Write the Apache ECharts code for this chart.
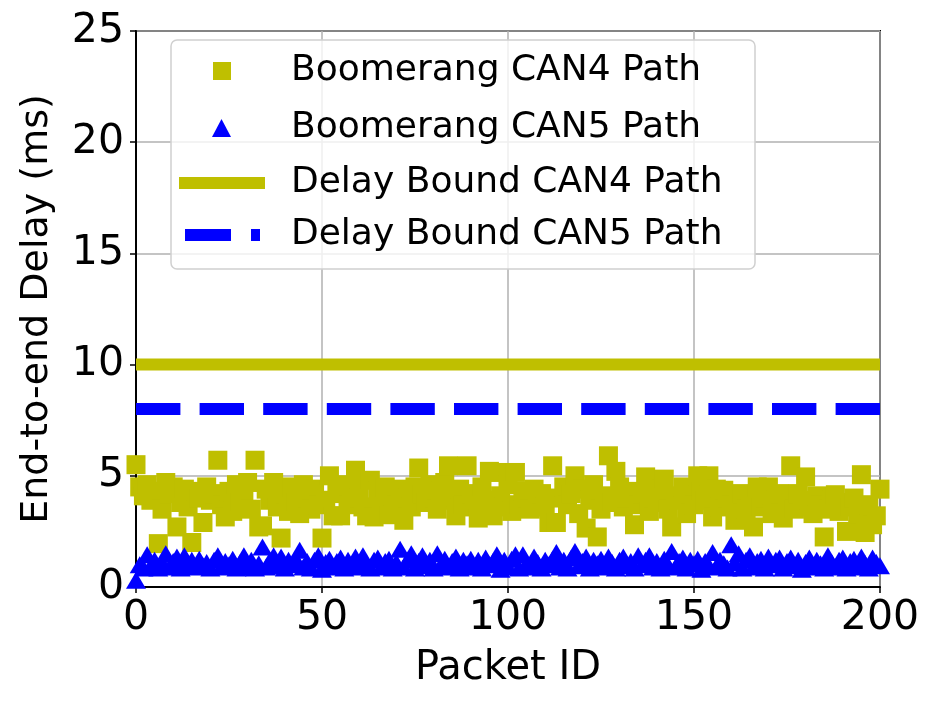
<!DOCTYPE html>
<html>
<head>
<meta charset="utf-8">
<script src="https://cdn.jsdelivr.net/npm/echarts@6/dist/echarts.min.js"></script>
<style>
  html, body { margin: 0; padding: 0; background: #fff; }
  #chart { width: 940px; height: 710px; }
</style>
</head>
<body>
<div id="chart"></div>
<script>
  // values, one per packet id 0..200
  var can4Delay = [
    5.5, 4.5, 4.1, 4.6, 3.9, 4.3, 1.95, 3.5, 4.7, 4.2,
    4.5, 2.7, 3.8, 4.4, 3.6, 2.0, 4.3, 4.0, 2.9, 4.5,
    3.9, 4.2, 5.7, 3.7, 3.15, 4.3, 3.4, 4.6, 3.8, 4.1,
    4.7, 3.5, 5.7, 2.7, 2.75, 4.4, 3.9, 4.7, 3.6, 2.2,
    4.2, 3.4, 4.5, 3.8, 3.3, 4.6, 4.0, 3.5, 4.4, 3.7,
    2.2, 3.9, 5.0, 3.2, 4.6, 3.2, 4.2, 3.7, 4.5, 5.25,
    4.0, 3.6, 3.2, 4.8, 3.15, 4.3, 3.8, 4.5, 3.25, 4.1,
    3.7, 4.4, 3.0, 4.0, 3.6, 4.5, 5.35, 4.2, 3.8, 4.6,
    4.0, 3.5, 4.3, 4.7, 5.45, 3.9, 3.2, 4.4, 3.7, 5.45,
    4.2, 3.6, 3.1, 4.5, 3.9, 5.2, 3.2, 5.15, 4.1, 3.6,
    4.6, 3.4, 5.15, 3.7, 4.3, 4.0, 3.5, 4.4, 3.8, 4.2,
    3.6, 2.9, 5.45, 2.9, 4.0, 4.5, 3.7, 4.2, 5.0, 3.3,
    4.4, 2.65, 3.9, 4.6, 2.25, 3.5, 4.1, 5.9, 3.8, 5.2,
    4.5, 3.6, 4.0, 4.3, 2.8, 3.7, 4.2, 4.95, 3.4, 4.0,
    3.8, 4.4, 4.85, 3.5, 2.7, 4.1, 3.9, 4.5, 3.3, 4.2,
    3.7, 5.0, 4.3, 3.9, 5.0, 3.15, 4.4, 3.6, 4.35, 4.0,
    3.7, 3.0, 3.8, 4.2, 3.5, 3.9, 2.7, 4.5, 3.6, 4.0,
    4.5, 3.3, 3.9, 4.2, 3.1, 3.8, 5.45, 3.5, 4.2, 3.6,
    4.95, 3.9, 3.3, 4.1, 3.7, 2.25, 3.5, 3.9, 4.15, 3.4,
    3.8, 2.5, 3.6, 4.0, 3.3, 5.05, 2.45, 3.7, 2.8, 3.2,
    4.4
  ]
  var can5Delay = [
    0.3, 1.0, 0.85, 1.45, 0.95, 1.2, 0.85, 1.1, 1.5, 0.9,
    1.15, 1.35, 0.85, 1.4, 1.0, 1.2, 0.9, 1.25, 0.95, 1.1,
    0.85, 1.2, 1.4, 0.9, 1.15, 1.0, 1.25, 0.85, 1.1, 1.4,
    0.9, 1.2, 0.85, 1.05, 1.8, 0.9, 1.2, 1.4, 0.95, 1.35,
    0.85, 1.2, 1.0, 1.25, 1.65, 0.9, 1.15, 0.85, 1.2, 1.4,
    0.8, 1.1, 1.25, 0.9, 1.15, 1.3, 0.85, 1.2, 1.0, 1.35,
    0.9, 1.4, 1.05, 0.85, 1.2, 1.3, 0.9, 1.15, 1.25, 0.85,
    1.1, 1.7, 0.9, 1.2, 1.5, 0.85, 1.15, 1.4, 0.95, 1.2,
    0.85, 1.5, 1.0, 1.25, 0.9, 1.15, 1.35, 0.85, 1.2, 1.05,
    1.25, 0.9, 1.2, 0.85, 1.3, 1.0, 1.15, 1.45, 0.8, 1.2,
    0.9, 1.25, 1.45, 0.85, 1.45, 1.05, 0.9, 1.35, 1.1, 0.85,
    1.2, 1.0, 1.25, 1.55, 0.9, 1.2, 0.85, 1.3, 1.6, 0.95,
    1.15, 1.35, 0.85, 1.2, 1.05, 1.25, 0.9, 1.35, 1.1, 0.85,
    1.2, 1.35, 0.95, 1.15, 0.85, 1.4, 1.0, 1.2, 1.4, 0.9,
    1.15, 0.85, 1.25, 1.0, 1.6, 0.9, 1.15, 1.3, 0.85, 1.2,
    1.05, 1.25, 0.8, 1.15, 0.95, 1.55, 0.9, 1.2, 1.05, 0.85,
    1.9, 1.1, 1.5, 0.85, 1.2, 1.4, 0.9, 1.15, 1.25, 0.85,
    1.35, 1.0, 1.2, 1.3, 0.85, 1.15, 1.3, 0.95, 1.2, 0.8,
    1.1, 1.3, 0.9, 1.2, 1.05, 0.85, 1.4, 1.1, 0.9, 1.2,
    1.3, 0.85, 1.15, 1.25, 0.9, 1.35, 1.05, 0.85, 1.3, 1.1,
    0.95
  ]
  var boundCan4 = 10
  var boundCan5 = 8
  var xRange = [0, 200]
  var xTicks = [0, 50, 100, 150, 200]
  var yTicks = [0, 5, 10, 15, 20, 25]
  var seriesNames = ['Boomerang CAN4 Path', 'Boomerang CAN5 Path', 'Delay Bound CAN4 Path', 'Delay Bound CAN5 Path']

  var olive = '#bfbf00'
  var blue = '#0000ff'
  var font = 'DejaVu Sans'

  var myChart = echarts.init(document.getElementById('chart'))

  function pairs (arr) {
    return arr.map(function (v, i) { return [i, v] })
  }

  function legendItem (name, top, left, icon, w, h, color, pad) {
    return {
      data: [{name: name, icon: icon, itemStyle: {color: color, borderWidth: 0, opacity: 1}}],
      left: left,
      top: top,
      padding: 0,
      itemWidth: w,
      itemHeight: h,
      selectedMode: false,
      z: 20,
      textStyle: {
        fontFamily: font,
        fontSize: 36,
        color: '#000',
        lineHeight: 40,
        padding: [0, 0, 0, pad]
      }
    }
  }

  var option = {
    animation: false,
    backgroundColor: '#fff',
    grid: {
      left: 136,
      right: 60,
      top: 31,
      bottom: 123,
      show: true,
      borderColor: '#000',
      borderWidth: 2,
      backgroundColor: 'transparent'
    },
    graphic: [
      {
        type: 'rect',
        z: 15,
        shape: {x: 171, y: 40, width: 584, height: 229, r: 6},
        style: {fill: 'rgba(255,255,255,0.8)', stroke: '#d0d0d0', lineWidth: 1.5}
      }
    ],
    legend: [
      legendItem(seriesNames[0], 51, 213, 'rect', 18, 18, olive, 55),
      legendItem(seriesNames[1], 108, 212, 'triangle', 19, 18, blue, 55),
      legendItem(seriesNames[2], 163, 179, 'path://M0,0H86V12H0Z', 86, 12, olive, 21),
      legendItem(seriesNames[3], 215, 185, 'path://M0,0H46V12H0Z M66,0H75V12H66Z', 75, 12, blue, 26)
    ],
    xAxis: {
      type: 'value',
      min: xRange[0],
      max: xRange[1],
      interval: xTicks[1] - xTicks[0],
      name: 'Packet ID',
      nameLocation: 'middle',
      nameGap: 62,
      nameTextStyle: {fontFamily: font, fontSize: 40, color: '#000'},
      axisLine: {show: true, lineStyle: {color: '#000', width: 2}},
      axisTick: {show: true, inside: false, length: 6, lineStyle: {color: '#000', width: 1.5}},
      axisLabel: {fontFamily: font, fontSize: 41, color: '#000', margin: 11},
      splitLine: {show: true, lineStyle: {color: '#b0b0b0', width: 1.5}}
    },
    yAxis: {
      type: 'value',
      min: yTicks[0],
      max: yTicks[yTicks.length - 1],
      interval: yTicks[1] - yTicks[0],
      name: 'End-to-end Delay (ms)',
      nameLocation: 'middle',
      nameGap: 80,
      nameTextStyle: {fontFamily: font, fontSize: 38, color: '#000'},
      axisLine: {show: true, lineStyle: {color: '#000', width: 2}},
      axisTick: {show: true, inside: false, length: 6, lineStyle: {color: '#000', width: 1.5}},
      axisLabel: {fontFamily: font, fontSize: 41, color: '#000', margin: 12},
      splitLine: {show: true, lineStyle: {color: '#b0b0b0', width: 1.5}}
    },
    series: [
      {
        name: seriesNames[0],
        type: 'scatter',
        symbol: 'rect',
        symbolSize: 19,
        itemStyle: {color: olive, opacity: 1},
        z: 3,
        data: pairs(can4Delay)
      },
      {
        name: seriesNames[1],
        type: 'scatter',
        symbol: 'triangle',
        symbolSize: [20, 17],
        itemStyle: {color: blue, opacity: 1},
        z: 4,
        data: pairs(can5Delay)
      },
      {
        name: seriesNames[2],
        type: 'line',
        showSymbol: false,
        symbol: 'none',
        color: olive,
        lineStyle: {color: olive, width: 12},
        z: 5,
        data: [[xRange[0], boundCan4], [xRange[1], boundCan4]]
      },
      {
        name: seriesNames[3],
        type: 'line',
        showSymbol: false,
        symbol: 'none',
        color: blue,
        lineStyle: {color: blue, width: 12, type: [44.4, 19.2], cap: 'butt'},
        z: 5,
        data: [[xRange[0], boundCan5], [xRange[1], boundCan5]]
      }
    ]
  }
  myChart.setOption(option)
</script>
</body>
</html>
